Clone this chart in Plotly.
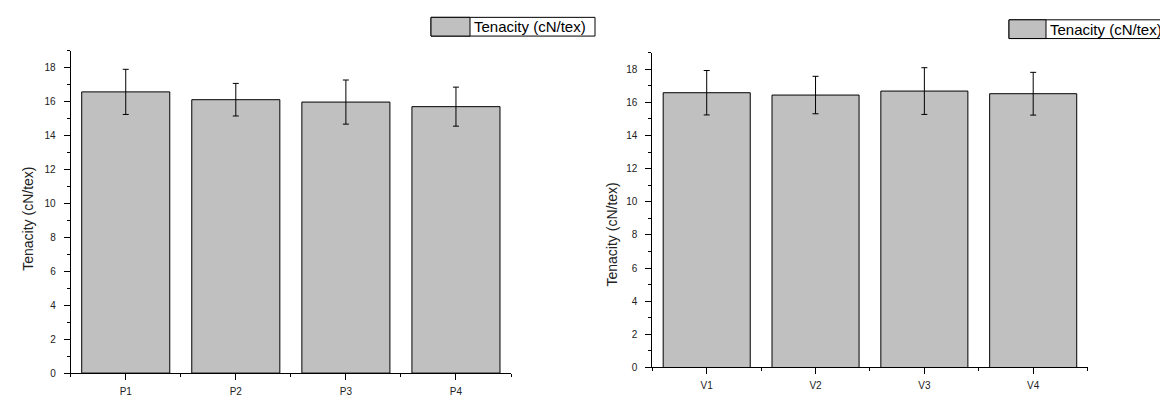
import plotly.graph_objects as go

# ---- data ----
series_name = "Tenacity (cN/tex)"
y_title = "Tenacity (cN/tex)"
p_labels = ["P1", "P2", "P3", "P4"]
p_values = [16.57, 16.11, 15.97, 15.70]
p_errors = [1.33, 0.96, 1.30, 1.15]
v_labels = ["V1", "V2", "V3", "V4"]
v_values = [16.58, 16.44, 16.68, 16.52]
v_errors = [1.34, 1.13, 1.41, 1.29]
y_ticks = [0, 2, 4, 6, 8, 10, 12, 14, 16, 18]

W, H = 1168, 398
FONT = "Liberation Sans, Arial, sans-serif"
BAR_COLOR = "#c0c0c0"


def px_x(x):
    return x / W


def px_y(y):
    return (H - y) / H


fig = go.Figure()

for i, (labels, values, errors) in enumerate(
    [(p_labels, p_values, p_errors), (v_labels, v_values, v_errors)]
):
    suffix = "" if i == 0 else "2"
    fig.add_trace(
        go.Bar(
            x=list(range(len(labels))),
            y=values,
            width=0.8,
            name=series_name,
            marker=dict(color=BAR_COLOR, line=dict(color="black", width=1)),
            error_y=dict(type="data", array=errors, color="black", thickness=1, width=3),
            xaxis="x" + suffix,
            yaxis="y" + suffix,
            showlegend=False,
        )
    )

common_x = dict(
    range=[-0.5, 3.5],
    showline=True,
    linecolor="black",
    linewidth=1,
    ticks="outside",
    ticklen=6,
    tickcolor="black",
    tickwidth=1,
    showgrid=False,
    zeroline=False,
    tickmode="array",
    tickvals=[0, 1, 2, 3],
    tickfont=dict(family=FONT, size=10, color="#222"),
    ticklabelstandoff=3,
    minor=dict(tickmode="array", tickvals=[-0.5, 0.5, 1.5, 2.5, 3.5],
               ticklen=3, tickcolor="black", ticks="outside", showgrid=False),
)
common_y = dict(
    range=[0, 19],
    showline=True,
    linecolor="black",
    linewidth=1,
    ticks="outside",
    ticklen=6,
    tickcolor="black",
    tickwidth=1,
    showgrid=False,
    zeroline=False,
    tickmode="array",
    tickvals=y_ticks,
    tickfont=dict(family=FONT, size=10, color="#222"),
    ticklabelstandoff=6,
    minor=dict(dtick=1, tick0=0, ticklen=3, tickcolor="black", ticks="outside", showgrid=False),
)

fig.update_layout(
    width=W,
    height=H,
    autosize=False,
    margin=dict(l=0, r=0, t=0, b=0),
    paper_bgcolor="white",
    plot_bgcolor="white",
    xaxis=dict(common_x, domain=[px_x(62.7), px_x(503)], ticktext=p_labels, anchor="y"),
    yaxis=dict(common_y, domain=[px_y(370.7), px_y(43.3)], anchor="x"),
    xaxis2=dict(common_x, domain=[px_x(644.3), px_x(1079.6)], ticktext=v_labels, anchor="y2"),
    yaxis2=dict(common_y, domain=[px_y(365), px_y(45.3)], anchor="x2"),
)

# axis titles
for xc, yc in [(20, 214), (604, 230)]:
    fig.add_annotation(
        x=px_x(xc), y=px_y(yc), xref="paper", yref="paper",
        text=y_title, textangle=-90, showarrow=False,
        font=dict(family=FONT, size=14, color="#222"),
        xanchor="center", yanchor="middle",
    )

# legend boxes (Origin-style)
for (x0, y0, x1, y1, sw) in [(423, 9.5, 587, 28.5, 462), (1001, 12, 1167, 31, 1038)]:
    fig.add_shape(type="rect", xref="paper", yref="paper",
                  x0=px_x(x0), x1=px_x(x1), y0=px_y(y1), y1=px_y(y0),
                  line=dict(color="black", width=1), fillcolor="white")
    fig.add_shape(type="rect", xref="paper", yref="paper",
                  x0=px_x(x0), x1=px_x(sw), y0=px_y(y1), y1=px_y(y0),
                  line=dict(color="black", width=1), fillcolor=BAR_COLOR)
    fig.add_annotation(
        x=px_x(sw + 2), y=px_y((y0 + y1) / 2), xref="paper", yref="paper",
        text=series_name, showarrow=False, xanchor="left", yanchor="middle",
        font=dict(family=FONT, size=15, color="black"),
    )

fig.write_html("out.html")
